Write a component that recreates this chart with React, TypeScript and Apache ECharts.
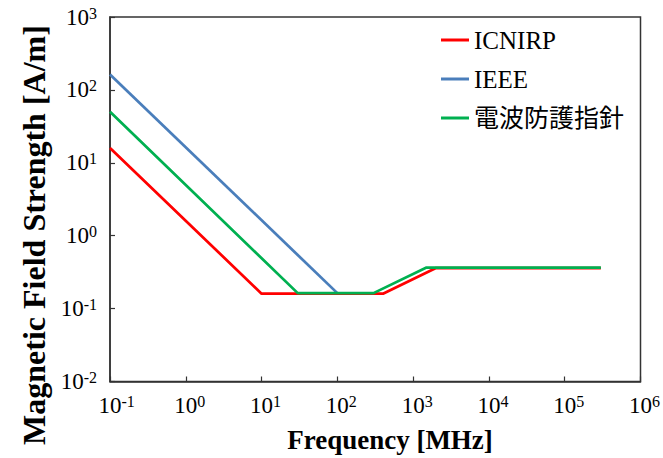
import React, { useEffect, useRef } from "react";
import * as echarts from "echarts";

const seriesNames = ["ICNIRP", "IEEE", "電波防護指針"];
const seriesColors = ["#FF0000", "#4A7EBB", "#00B050"];

const freqICNIRP = [0.1, 10, 400, 2000, 300000];
const hICNIRP = [16, 0.16, 0.16, 0.36, 0.36];

const freqIEEE = [0.1, 100];
const hIEEE = [163, 0.163];

const freqJP = [0.1, 30, 300, 1500, 300000];
const hJP = [50, 0.163, 0.163, 0.365, 0.365];

const xTitle = "Frequency [MHz]";
const yTitle = "Magnetic Field Strength [A/m]";

const serif = "Liberation Serif, Noto Sans CJK JP";

function pairs(xs: number[], ys: number[]) {
  return xs.map((x, i) => [x, ys[i]]);
}

function expOf(v: number) {
  return Math.round(Math.log10(v));
}

const richBase = {
  b: { fontFamily: serif, fontSize: 23, color: "#000", lineHeight: 24 },
  s: { fontFamily: serif, fontSize: 16, color: "#000", lineHeight: 15, verticalAlign: "top" },
  h: { fontFamily: serif, fontSize: 16, color: "rgba(0,0,0,0)", lineHeight: 15, verticalAlign: "top" },
};

export default function App() {
  const ref = useRef<HTMLDivElement>(null);
  useEffect(() => {
    if (!ref.current) return;
    const chart = echarts.init(ref.current, undefined, { renderer: "svg" });
    const data = [pairs(freqICNIRP, hICNIRP), pairs(freqIEEE, hIEEE), pairs(freqJP, hJP)];
    chart.setOption({
      animation: false,
      textStyle: { fontFamily: serif },
      grid: {
        left: 110,
        right: 21,
        top: 17,
        bottom: 76.5,
        show: true,
        borderColor: "#333",
        borderWidth: 1.5,
        backgroundColor: "transparent",
      },
      legend: {
        orient: "vertical",
        left: 441,
        top: 27.5,
        padding: 0,
        itemWidth: 28,
        itemHeight: 3,
        itemGap: 14,
        icon: "rect",
        data: seriesNames,
        textStyle: { fontFamily: serif, fontSize: 25, color: "#000", lineHeight: 25 },
      },
      xAxis: {
        type: "log",
        logBase: 10,
        min: 0.1,
        max: 1e6,
        splitNumber: 7,
        axisLine: { show: true, lineStyle: { color: "#333", width: 1.5 } },
        axisTick: { show: true, inside: true, length: 5, lineStyle: { color: "#333", width: 1.2 } },
        minorTick: { show: false },
        splitLine: { show: false },
        axisLabel: {
          margin: 12,
          fontFamily: serif,
          formatter: (v: number) => {
            const e = expOf(v);
            return `{h|${e}}{b|10}{s|${e}}`;
          },
          rich: richBase,
        },
      },
      yAxis: {
        type: "log",
        logBase: 10,
        min: 0.01,
        max: 1000,
        splitNumber: 5,
        axisLine: { show: true, lineStyle: { color: "#333", width: 1.5 } },
        axisTick: { show: true, inside: true, length: 5, lineStyle: { color: "#333", width: 1.2 } },
        minorTick: { show: false },
        splitLine: { show: false },
        axisLabel: {
          margin: 13,
          fontFamily: serif,
          formatter: (v: number) => {
            const e = expOf(v);
            return `{b|10}{s|${e}}`;
          },
          rich: richBase,
        },
      },
      graphic: [
        {
          type: "text",
          x: 390,
          y: 440,
          style: {
            text: xTitle,
            font: `bold 27px ${serif}`,
            fill: "#000",
            textAlign: "center",
            textVerticalAlign: "middle",
          },
        },
        {
          type: "text",
          x: 34,
          y: 235,
          rotation: Math.PI / 2,
          style: {
            text: yTitle,
            font: `bold 32px ${serif}`,
            fill: "#000",
            textAlign: "center",
            textVerticalAlign: "middle",
          },
        },
      ],
      series: seriesNames.map((name, i) => ({
        name,
        type: "line",
        data: data[i],
        symbol: "none",
        showSymbol: false,
        color: seriesColors[i],
        lineStyle: { color: seriesColors[i], width: 2.75 },
        itemStyle: { color: seriesColors[i] },
      })),
    });
    return () => chart.dispose();
  }, []);
  return (
    <div
      ref={ref}
      style={{ position: "absolute", left: 0, top: 0, width: 663, height: 458, background: "#fff" }}
    />
  );
}
